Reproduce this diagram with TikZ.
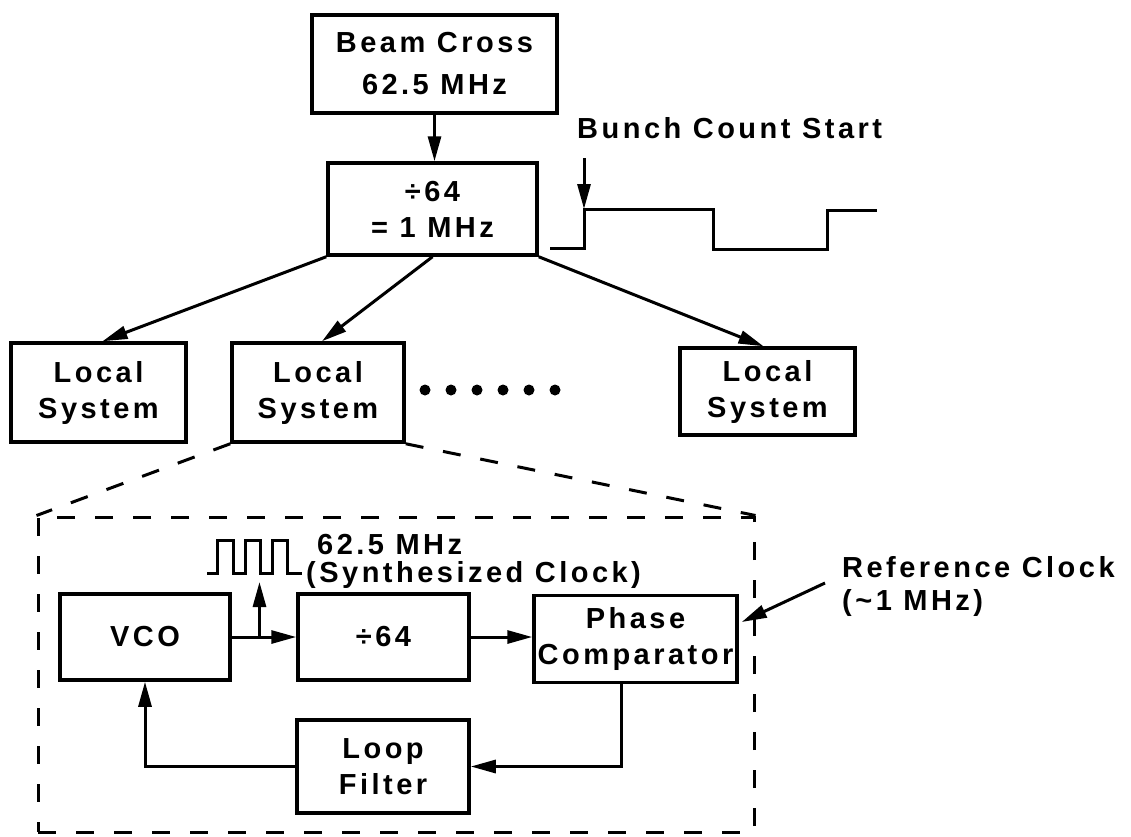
\documentclass[tikz,border=0pt]{standalone}
\usepackage{fontspec}
\setmainfont{Liberation Sans}[LetterSpace=12]
\usetikzlibrary{arrows.meta,calc}
\newcommand\labfont{\fontsize{29}{36}\selectfont\bfseries}
\begin{document}
\begin{tikzpicture}[x=1pt,y=-1pt,
  box/.style={draw,line width=3.5pt,inner sep=0pt,align=center,font=\labfont},
  lbl/.style={inner sep=0pt,font=\labfont,anchor=west},
  arr/.style={line width=3pt,-{Triangle[length=25pt,width=13pt]}},
  wire/.style={line width=3pt,line join=miter},
  dsh/.style={line width=3pt,dash pattern=on 18pt off 20pt}]
\useasboundingbox (0,0) rectangle (1131,836);

% top part
\node[box,minimum width=245pt,minimum height=98pt] (beam) at (434.5,64) {Beam Cross\\[6pt]62.5 MHz};
\node[box,minimum width=209pt,minimum height=92pt] (div) at (432.5,209) {÷64\\= 1 MHz};
\node[box,minimum width=175pt,minimum height=99pt] (ls1) at (98.5,392.5) {Local\\System};
\node[box,minimum width=172pt,minimum height=99pt] (ls2) at (318,392.5) {Local\\System};
\node[box,minimum width=175pt,minimum height=87pt] (ls3) at (767.5,391.5) {Local\\System};

\draw[arr] (beam.south) -- (beam.south |- div.north);
\draw[arr] (div.south west) -- ([xshift=4pt]ls1.north);
\draw[arr] (div.south) -- ([xshift=4pt]ls2.north);
\draw[arr] (div.south east) -- ([xshift=-4pt]ls3.north);

\foreach \x in {425,451,477,503,529,555} \fill (\x,390) circle (5.5pt);

% bunch count start
\node[lbl] (bcs) at (577,128) {Bunch Count Start};
\draw[wire] (550,248) -- (584,248) -- (584,209) -- (713,209) -- (713,249) -- (827,249) -- (827,210) -- (877,210);
\coordinate (bcstop) at (584,158);
\coordinate (bcsedge) at (584,209);
\draw[arr] (bcstop) -- (bcsedge);

% PLL detail
\node[draw,dsh,minimum width=716pt,minimum height=315pt,inner sep=0pt] (pll) at (396,674.5) {};
\draw[dsh] (ls2.south west) -- (pll.north west);
\draw[dsh] (ls2.south east) -- (pll.north east);

\node[box,minimum width=170pt,minimum height=86pt] (vco) at (145,637) {VCO};
\node[box,minimum width=171pt,minimum height=86pt] (d64) at (383.5,637) {÷64};
\node[box,minimum width=203pt,minimum height=87pt] (pc) at (635.5,639) {Phase\\Comparator};
\node[box,minimum width=172pt,minimum height=93pt] (lf) at (383,766.5) {Loop\\Filter};

\draw[arr] (vco.east) -- (d64.west);
\draw[arr] (d64.east) -- (d64.east -| pc.west);
\coordinate (tap) at ($(vco.east)!0.43!(d64.west)$);
\draw[arr] (tap) -- ++(0,-55);
\draw[arr] ([xshift=-14pt]pc.south) |- (lf.east);
\draw[arr] (lf.west) -| (vco.south);

\draw[wire] (207,573) -- (217,573) -- (217,540) -- (233,540) -- (233,573) -- (245,573) -- (245,540) -- (260,540) -- (260,573) -- (272,573) -- (272,540) -- (287,540) -- (287,573) -- (302,573);
\node[lbl] (s1) at (317,545) {62.5 MHz};
\node[lbl] (s2) at (306,575) {(Synthesized Clock)};

\node[lbl] (refc) at (842,567) {Reference Clock};
\node[lbl] (refm) at (842,603) {(\textasciitilde1 MHz)};
\coordinate (refstart) at (825,583);
\draw[arr] (refstart) -- ([xshift=3pt,yshift=17pt]pc.east);
\end{tikzpicture}
\end{document}
